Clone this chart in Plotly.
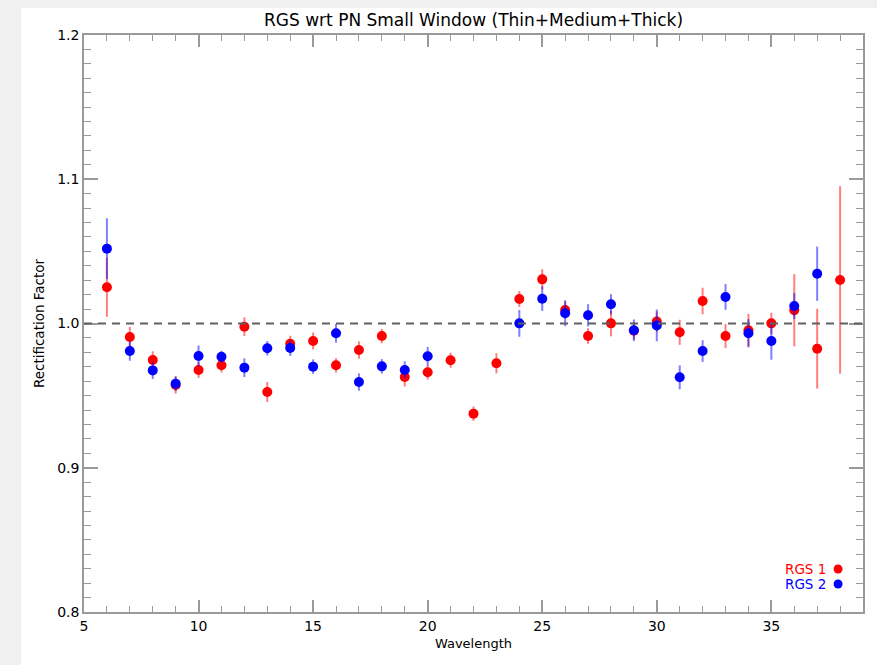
import plotly.graph_objects as go

# ---- data ----
wl_rgs1 = [6, 7, 8, 9, 10, 11, 12, 13, 14, 15, 16, 17, 18, 19, 20, 21, 22, 23,
           24, 25, 26, 27, 28, 29, 30, 31, 32, 33, 34, 35, 36, 37, 38]
rf_rgs1 = [1.0251, 0.9906, 0.9747, 0.9574, 0.9678, 0.9710, 0.9978, 0.9525, 0.9860,
           0.9879, 0.9710, 0.9816, 0.9913, 0.9629, 0.9662, 0.9745, 0.9375, 0.9724,
           1.0170, 1.0306, 1.0094, 0.9913, 1.0001, 0.9950, 1.0013, 0.9939, 1.0156,
           0.9913, 0.9953, 1.0001, 1.0092, 0.9825, 1.0302]
err_rgs1 = [0.0205, 0.0070, 0.0060, 0.0060, 0.0055, 0.0050, 0.0065, 0.0069, 0.0055,
            0.0058, 0.0050, 0.0060, 0.0050, 0.0066, 0.0050, 0.0052, 0.0050, 0.0070,
            0.0055, 0.0070, 0.0060, 0.0054, 0.0090, 0.0060, 0.0070, 0.0087, 0.0092,
            0.0084, 0.0113, 0.0074, 0.0250, 0.0277, 0.0650]

wl_rgs2 = [6, 7, 8, 9, 10, 11, 12, 13, 14, 15, 16, 17, 18, 19, 20,
           24, 25, 26, 27, 28, 29, 30, 31, 32, 33, 34, 35, 36, 37]
rf_rgs2 = [1.0519, 0.9809, 0.9675, 0.9583, 0.9775, 0.9770, 0.9694, 0.9828, 0.9830,
           0.9701, 0.9932, 0.9594, 0.9703, 0.9678, 0.9773,
           1.0001, 1.0172, 1.0071, 1.0057, 1.0133, 0.9953, 0.9987, 0.9627, 0.9809,
           1.0184, 0.9932, 0.9879, 1.0121, 1.0345]
err_rgs2 = [0.0210, 0.0067, 0.0060, 0.0050, 0.0073, 0.0040, 0.0065, 0.0050, 0.0055,
            0.0050, 0.0065, 0.0060, 0.0050, 0.0060, 0.0065,
            0.0093, 0.0085, 0.0090, 0.0077, 0.0070, 0.0075, 0.0110, 0.0083, 0.0075,
            0.0089, 0.0097, 0.0130, 0.0090, 0.0188]

series_names = ["RGS 1", "RGS 2"]
REF_LEVEL = 1.0
x_range = [5, 39]
y_range = [0.8, 1.2]

FONT = "DejaVu Sans"
W, H = 877, 665
ML, MR, MT, MB = 84, 12, 35, 53

fig = go.Figure()
fig.add_trace(go.Scatter(
    x=wl_rgs1, y=rf_rgs1, mode="markers", name=series_names[0],
    marker=dict(color="#ff0000", size=10, line=dict(width=0)),
    error_y=dict(type="data", array=err_rgs1, color="rgba(255,0,0,0.5)",
                 thickness=2, width=0),
    showlegend=False))
fig.add_trace(go.Scatter(
    x=wl_rgs2, y=rf_rgs2, mode="markers", name=series_names[1],
    marker=dict(color="#0000ff", size=10, line=dict(width=0)),
    error_y=dict(type="data", array=err_rgs2, color="rgba(0,0,255,0.5)",
                 thickness=2, width=0),
    showlegend=False))

axis_common = dict(showline=True, linecolor="#9a9a9a", linewidth=1.5,
                   mirror="ticks", ticks="inside", tickcolor="#9a9a9a",
                   showgrid=False, zeroline=False,
                   tickfont=dict(family=FONT, size=14, color="#000"))

fig.update_xaxes(range=x_range, tick0=5, dtick=5, ticklen=12, tickwidth=1.5,
                 minor=dict(dtick=1, ticks="inside", ticklen=6, tickcolor="#9a9a9a", tickwidth=1),
                 title=dict(text="Wavelength", font=dict(family=FONT, size=13, color="#000"), standoff=6),
                 **axis_common)
fig.update_yaxes(range=y_range, tick0=0.8, dtick=0.1, tickformat=".1f", ticklen=14, tickwidth=1.5,
                 minor=dict(dtick=0.01, ticks="inside", ticklen=7, tickcolor="#9a9a9a", tickwidth=1),
                 title=dict(text="Rectification Factor", font=dict(family=FONT, size=13.5, color="#000"), standoff=9),
                 **axis_common)

# reference line
fig.add_shape(type="line", xref="paper", x0=0, x1=1, yref="y", y0=REF_LEVEL, y1=REF_LEVEL,
              line=dict(color="#606060", width=2, dash="8px,6px"))

# white panel over grey page
pw, ph = W - ML - MR, H - MT - MB
def px2paper_x(px):
    return (px - ML) / pw
def px2paper_y(py):
    return (H - MB - py) / ph
fig.add_shape(type="rect", xref="paper", yref="paper", layer="below",
              x0=px2paper_x(21), x1=px2paper_x(W + 5), y0=px2paper_y(H + 5), y1=px2paper_y(8),
              fillcolor="white", line=dict(width=0))

# legend (text then dot)
leg_colors = ["#ff0000", "#0000ff"]
leg_y = [569, 584]
for name, col, py in zip(series_names, leg_colors, leg_y):
    fig.add_annotation(xref="paper", yref="paper", x=px2paper_x(830), y=px2paper_y(py),
                       text=name, showarrow=False, xanchor="right", yanchor="middle",
                       font=dict(family=FONT, size=13.5, color=col))
    fig.add_shape(type="circle", xref="paper", yref="paper", xsizemode="pixel", ysizemode="pixel",
                  xanchor=px2paper_x(840), yanchor=px2paper_y(py), x0=-4.5, x1=4.5, y0=-4.5, y1=4.5,
                  fillcolor=col, line=dict(width=0))

fig.update_layout(
    width=W, height=H,
    margin=dict(l=ML, r=MR, t=MT, b=MB),
    paper_bgcolor="#f0f0f0", plot_bgcolor="white",
    title=dict(text="RGS wrt PN Small Window (Thin+Medium+Thick)", x=0.5, xref="paper",
               y=1 - 20 / H, yref="container", yanchor="middle", xanchor="center",
               font=dict(family=FONT, size=17, color="#000")),
)

fig.write_html("out.html")
